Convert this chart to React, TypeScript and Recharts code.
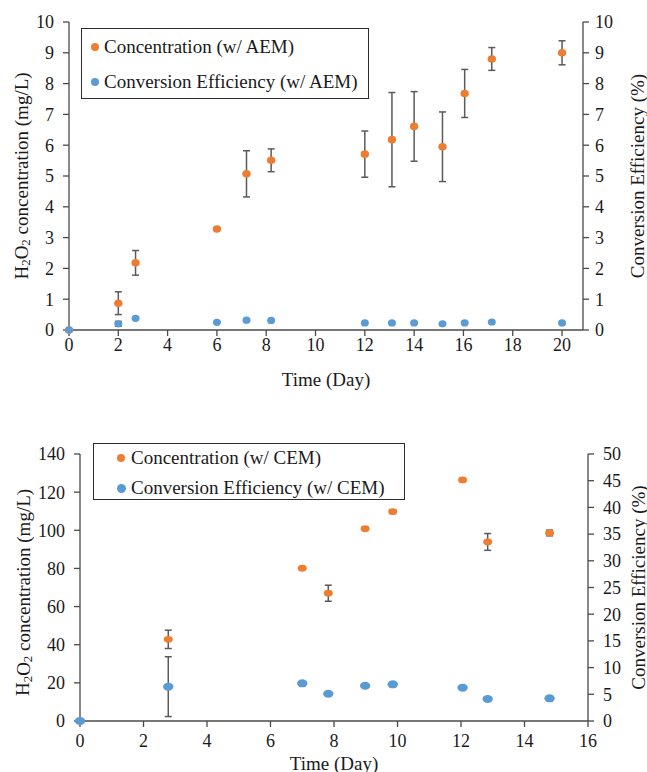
import React from 'react';
import { ScatterChart, Scatter, XAxis, YAxis, ErrorBar, Legend } from 'recharts';

const FONT = '"Liberation Serif", "Times New Roman", serif';
const ORANGE = '#ED7D31';
const BLUE = '#5B9BD5';
const AXIS = '#4a4a4a';
const TEXT = '#1a1a1a';
const ERR = '#5a5a5a';

// ---- Top chart (AEM) ----
const aemDays = [0, 2, 2.7, 6, 7.2, 8.2, 12, 13.1, 14, 15.15, 16.05, 17.15, 20];
const aemConc = [0, 0.87, 2.18, 3.28, 5.07, 5.51, 5.71, 6.18, 6.61, 5.95, 7.68, 8.8, 9.0];
const aemConcErr = [null, 0.37, 0.4, null, 0.75, 0.37, 0.75, 1.53, 1.13, 1.13, 0.78, 0.37, 0.39];
const aemEff = [0, 0.2, 0.38, 0.25, 0.32, 0.31, 0.23, 0.23, 0.23, 0.2, 0.23, 0.26, 0.23];
const aemEffErr = [null, 0.08, null, null, null, null, null, null, null, null, null, null, null];
const aemXTicks = [0, 2, 4, 6, 8, 10, 12, 14, 16, 18, 20];
const aemYTicks = [0, 1, 2, 3, 4, 5, 6, 7, 8, 9, 10];
const aemY2Ticks = [0, 1, 2, 3, 4, 5, 6, 7, 8, 9, 10];

// ---- Bottom chart (CEM) ----
const cemDays = [0, 2.78, 7, 7.82, 8.98, 9.85, 12.05, 12.84, 14.79];
const cemConc = [0, 42.8, 80.1, 67.0, 100.8, 109.8, 126.4, 93.9, 98.6];
const cemConcErr = [null, 4.8, null, 4.2, null, 1, null, 4.4, 1.5];
const cemEff = [0, 6.43, 7.06, 5.1, 6.6, 6.87, 6.24, 4.12, 4.25];
const cemEffErr = [null, 5.6, null, null, null, null, null, null, null];
const cemXTicks = [0, 2, 4, 6, 8, 10, 12, 14, 16];
const cemYTicks = [0, 20, 40, 60, 80, 100, 120, 140];
const cemY2Ticks = [0, 5, 10, 15, 20, 25, 30, 35, 40, 45, 50];

const build = (days: number[], vals: number[], errs: (number | null)[]) =>
  days.map((d, i) => ({ day: d, value: vals[i], err: errs[i] }));

const tickStyle = { fill: TEXT, fontSize: 18, fontFamily: FONT };

const makeShape = (rx: number, ry: number) => (p: any) =>
  p.cx == null ? null : <ellipse cx={p.cx} cy={p.cy} rx={rx} ry={ry} fill={p.fill} />;

const H2O2Title = (props: any) => {
  const vb = props.viewBox || { x: 0, y: 0, width: 0, height: 0 };
  const cx = vb.x + props.ox;
  const cy = vb.y + vb.height / 2 + (props.oy || 0);
  return (
    <text x={cx} y={cy} transform={`rotate(-90 ${cx} ${cy})`} textAnchor="middle" dominantBaseline="central"
      fontSize={19} fontFamily={FONT} fill={TEXT}>
      H<tspan dy={4} fontSize={13}>2</tspan><tspan dy={-4}>O</tspan><tspan dy={4} fontSize={13}>2</tspan>
      <tspan dy={-4}> concentration (mg/L)</tspan>
    </text>
  );
};

const RightTitle = (props: any) => {
  const vb = props.viewBox || { x: 0, y: 0, width: 0, height: 0 };
  const cx = vb.x + props.ox;
  const cy = vb.y + vb.height / 2 + (props.oy || 0);
  return (
    <text x={cx} y={cy} transform={`rotate(-90 ${cx} ${cy})`} textAnchor="middle" dominantBaseline="central"
      fontSize={19} fontFamily={FONT} fill={TEXT}>
      Conversion Efficiency (%)
    </text>
  );
};

const XTitle = (props: any) => {
  const vb = props.viewBox || { x: 0, y: 0, width: 0, height: 0 };
  const cx = vb.x + vb.width / 2;
  const cy = vb.y + props.oy;
  return (
    <text x={cx} y={cy} textAnchor="middle" dominantBaseline="central" fontSize={19} fontFamily={FONT} fill={TEXT}>
      Time (Day)
    </text>
  );
};

const LegendBox = (props: any) => {
  const { payload, w, h, mx, tx, rows, radii } = props;
  return (
    <div style={{ position: 'relative', width: w, height: h, border: '1.5px solid #2b2b2b', boxSizing: 'border-box',
      background: '#fff', fontFamily: FONT, fontSize: 19, color: TEXT }}>
      {(payload || []).map((it: any, i: number) => (
        <React.Fragment key={i}>
          <span style={{ position: 'absolute', left: mx - radii[i], top: rows[i] - radii[i], width: radii[i] * 2,
            height: radii[i] * 2, borderRadius: '50%', background: it.color }} />
          <span style={{ position: 'absolute', left: tx, top: rows[i] - 11, lineHeight: '22px', whiteSpace: 'nowrap' }}>
            {it.value}
          </span>
        </React.Fragment>
      ))}
    </div>
  );
};

export default function App() {
  const aemConcData = build(aemDays, aemConc, aemConcErr);
  const aemEffData = build(aemDays, aemEff, aemEffErr);
  const cemConcData = build(cemDays, cemConc, cemConcErr);
  const cemEffData = build(cemDays, cemEff, cemEffErr);

  return (
    <div style={{ position: 'absolute', left: 0, top: 0, width: 647, height: 772, background: '#fff' }}>
      <div style={{ position: 'absolute', left: 0, top: 0 }}>
        <ScatterChart width={647} height={390} margin={{ top: 22, right: 0, bottom: 0, left: 0 }}>
          <XAxis type="number" dataKey="day" domain={[0, 20.85]} ticks={aemXTicks} height={60}
            stroke={AXIS} strokeWidth={1.3} tickSize={6} tickMargin={2} tick={tickStyle}
            label={<XTitle oy={49} />} />
          <YAxis yAxisId="left" type="number" dataKey="value" domain={[0, 10]} ticks={aemYTicks} width={69}
            stroke={AXIS} strokeWidth={1.3} tickSize={6} tickMargin={9} tick={tickStyle}
            label={<H2O2Title ox={21} />} />
          <YAxis yAxisId="right" orientation="right" type="number" dataKey="value" domain={[0, 10]} ticks={aemY2Ticks}
            width={64} stroke={AXIS} strokeWidth={1.3} tickSize={6} tickMargin={6} tick={tickStyle}
            label={<RightTitle ox={54} />} />
          <Legend layout="vertical" align="center" verticalAlign="middle"
            wrapperStyle={{ left: 81, top: 28, width: 288, height: 71 }}
            content={<LegendBox w={288} h={71} mx={13} tx={22} rows={[17.5, 53]} radii={[4, 4]} />} />
          <Scatter yAxisId="left" name="Concentration (w/ AEM)" data={aemConcData} fill={ORANGE}
            shape={makeShape(4.2, 3.8)} legendType="circle" isAnimationActive={false}>
            <ErrorBar dataKey="err" direction="y" width={3.5} stroke={ERR} strokeWidth={1.5} />
          </Scatter>
          <Scatter yAxisId="right" name="Conversion Efficiency (w/ AEM)" data={aemEffData} fill={BLUE}
            shape={makeShape(4, 3.6)} legendType="circle" isAnimationActive={false}>
            <ErrorBar dataKey="err" direction="y" width={3.5} stroke={ERR} strokeWidth={1.5} />
          </Scatter>
        </ScatterChart>
      </div>

      <div style={{ position: 'absolute', left: 0, top: 390 }}>
        <ScatterChart width={647} height={382} margin={{ top: 64, right: 0, bottom: 0, left: 0 }}>
          <XAxis type="number" dataKey="day" domain={[0, 16]} ticks={cemXTicks} height={51}
            stroke={AXIS} strokeWidth={1.3} tickSize={6} tickMargin={7} tick={tickStyle}
            label={<XTitle oy={42} />} />
          <YAxis yAxisId="left" type="number" dataKey="value" domain={[0, 140]} ticks={cemYTicks} width={80}
            stroke={AXIS} strokeWidth={1.3} tickSize={6} tickMargin={9} tick={tickStyle}
            label={<H2O2Title ox={22.5} oy={5} />} />
          <YAxis yAxisId="right" orientation="right" type="number" dataKey="value" domain={[0, 50]} ticks={cemY2Ticks}
            width={59} stroke={AXIS} strokeWidth={1.3} tickSize={6} tickMargin={9} tick={tickStyle}
            label={<RightTitle ox={50} />} />
          <Legend layout="vertical" align="center" verticalAlign="middle"
            wrapperStyle={{ left: 93, top: 53, width: 312, height: 57 }}
            content={<LegendBox w={312} h={57} mx={27} tx={37} rows={[14, 44]} radii={[4, 4.5]} />} />
          <Scatter yAxisId="left" name="Concentration (w/ CEM)" data={cemConcData} fill={ORANGE}
            shape={makeShape(4.5, 3.4)} legendType="circle" isAnimationActive={false}>
            <ErrorBar dataKey="err" direction="y" width={3.5} stroke={ERR} strokeWidth={1.5} />
          </Scatter>
          <Scatter yAxisId="right" name="Conversion Efficiency (w/ CEM)" data={cemEffData} fill={BLUE}
            shape={makeShape(5.2, 4)} legendType="circle" isAnimationActive={false}>
            <ErrorBar dataKey="err" direction="y" width={3.5} stroke={ERR} strokeWidth={1.5} />
          </Scatter>
        </ScatterChart>
      </div>
    </div>
  );
}
